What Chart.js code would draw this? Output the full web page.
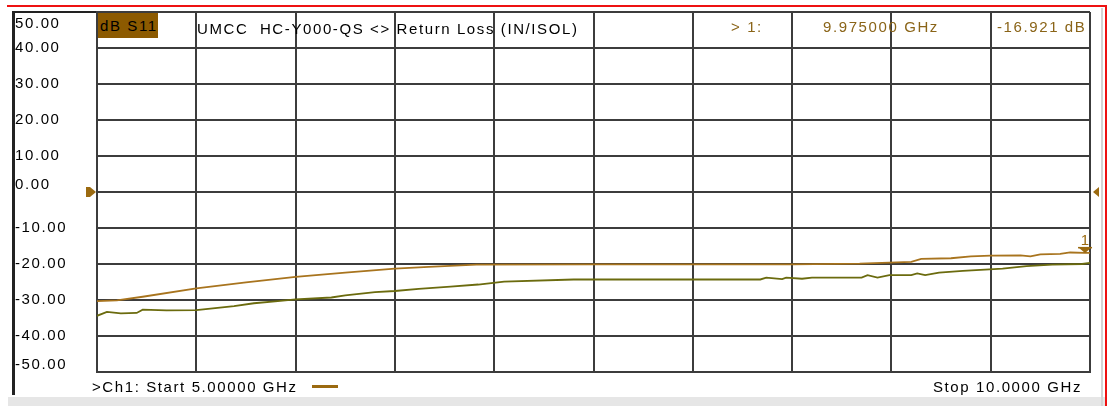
<!DOCTYPE html>
<html lang="en">
<head>
<meta charset="UTF-8">
<title>dB S11 Return Loss</title>
<script src="https://cdn.jsdelivr.net/npm/chart.js"></script>
<style>
  body { margin: 0; background: #fff; }
  #wrap { position: relative; width: 1110px; height: 406px; overflow: hidden; }
  canvas { position: absolute; left: 0; top: 0; }
  .lbl { position: absolute; font-family: "Liberation Sans", Arial, sans-serif; font-size: 15px;
         letter-spacing: 1.6px; line-height: 16px; white-space: pre; color: #000; }
  .mk { color: #8a6418; }
</style>
</head>
<body>
<div id="wrap">
  <canvas id="vna" width="1110" height="406"></canvas>
  <div class="lbl" style="left:98px;top:13px;height:25px;line-height:25px;width:58px;padding-left:2px;background:#8c5a00;">dB S11</div>
  <div class="lbl" style="left:197px;top:21px;">UMCC  HC-Y000-QS &lt;&gt; Return Loss (IN/ISOL)</div>
  <div class="lbl mk" style="left:731px;top:19px;">&gt; 1:</div>
  <div class="lbl mk" style="left:823px;top:19px;">9.975000 GHz</div>
  <div class="lbl mk" style="left:997px;top:19px;">-16.921 dB</div>
  <div class="lbl" style="left:92px;top:379px;">&gt;Ch1: Start 5.00000 GHz</div>
  <div style="position:absolute;left:312px;top:385px;width:26px;height:3px;background:#9b6a10;"></div>
  <div class="lbl" style="left:933px;top:379px;">Stop 10.0000 GHz</div>
</div>

<script>
// trace data (GHz / dB)
const brownFreq = [5.00, 5.10, 5.23, 5.50, 5.75, 6.00, 6.25, 6.50, 6.67, 6.91, 7.50, 8.00, 8.50, 8.84, 9.10,
                   9.15, 9.30, 9.40, 9.50, 9.65, 9.70, 9.75, 9.85, 9.90, 9.975, 10.00];
const brownDb = [-30.3, -30.1, -29.1, -26.8, -25.1, -23.6, -22.4, -21.3, -20.8, -20.2, -20.1, -20.1, -20.1, -19.9, -19.4,
                 -18.6, -18.4, -17.9, -17.7, -17.6, -17.9, -17.3, -17.2, -16.8, -16.9, -16.9];

const oliveFreq = [5.00, 5.05, 5.12, 5.20, 5.23, 5.35, 5.50, 5.69, 5.79, 5.91, 6.00, 6.18, 6.25, 6.40, 6.50,
                   6.62, 6.78, 6.92, 7.05, 7.40, 8.00, 8.34, 8.37, 8.45, 8.47, 8.55, 8.60, 8.85, 8.88, 8.93,
                   8.99, 9.10, 9.13, 9.17, 9.24, 9.36, 9.56, 9.68, 9.81, 9.96, 10.00];
const oliveDb = [-34.4, -33.3, -33.7, -33.6, -32.7, -32.9, -32.8, -31.7, -30.9, -30.3, -29.8, -29.3, -28.7, -27.8, -27.5,
                 -26.9, -26.3, -25.7, -24.9, -24.3, -24.3, -24.3, -23.8, -24.2, -23.8, -24.1, -23.8, -23.8, -23.1, -23.8,
                 -23.1, -23.1, -22.6, -23.1, -22.4, -21.9, -21.3, -20.6, -20.2, -20.0, -19.7];

const markerFreq = 9.975;
const markerDb = -16.921;

const yTicks = [50, 40, 30, 20, 10, 0, -10, -20, -30, -40, -50];

const frame = {
  id: 'frame',
  beforeDraw(chart) {
    const c = chart.ctx, a = chart.chartArea;
    c.save();
    c.fillStyle = '#fff';
    c.fillRect(0, 0, chart.width, chart.height);
    c.fillStyle = '#e6e6e6';
    c.fillRect(8, 397, 1097, 9);
    c.fillStyle = '#d4d4d4';
    c.fillRect(1101, 8, 2, 398);
    c.fillStyle = '#ee1111';
    c.fillRect(7, 5, 1100, 2);
    c.fillRect(1105, 5, 2, 401);
    c.fillStyle = '#222';
    c.fillRect(12, a.top - 1, 3, 396 - a.top);
    c.fillRect(12, a.top - 1, a.right - 12, 2);
    c.restore();
    c.letterSpacing = '1.6px';
  },
  afterDatasetsDraw(chart) {
    const c = chart.ctx, a = chart.chartArea;
    const xs = chart.scales.x, ys = chart.scales.y;
    const y0 = ys.getPixelForValue(0);
    c.save();
    c.fillStyle = '#9b6a10';
    // reference level arrows
    c.fillRect(a.left - 11, y0 - 5, 4, 10);
    c.beginPath();
    c.moveTo(a.left - 7, y0 - 5); c.lineTo(a.left - 1, y0); c.lineTo(a.left - 7, y0 + 5);
    c.fill();
    c.beginPath();
    c.moveTo(a.right + 9, y0 - 5); c.lineTo(a.right + 3, y0); c.lineTo(a.right + 9, y0 + 5);
    c.fill();
    // marker 1
    const mx = xs.getPixelForValue(markerFreq), my = ys.getPixelForValue(markerDb);
    c.beginPath();
    c.moveTo(mx - 6, my - 5); c.lineTo(mx + 6, my - 5); c.lineTo(mx, my);
    c.fill();
    c.fillRect(mx - 7, my - 6, 14, 1.5);
    c.font = '15px "Liberation Sans", Arial, sans-serif';
    c.letterSpacing = '0px';
    c.textAlign = 'center';
    c.textBaseline = 'alphabetic';
    c.fillText('1', mx, my - 8);
    c.restore();
  }
};

const ctx = document.getElementById('vna').getContext('2d');
new Chart(ctx, {
  type: 'line',
  data: {
    datasets: [
      {
        label: 'S11',
        data: brownFreq.map((f, i) => ({ x: f, y: brownDb[i] })),
        borderColor: '#a8741e',
        borderWidth: 1.8,
        pointRadius: 0,
        tension: 0
      },
      {
        label: 'S21',
        data: oliveFreq.map((f, i) => ({ x: f, y: oliveDb[i] })),
        borderColor: '#6b6b0e',
        borderWidth: 1.8,
        pointRadius: 0,
        tension: 0
      }
    ]
  },
  options: {
    responsive: false,
    animation: false,
    layout: { padding: { left: 15, top: 12, right: 20, bottom: 34 } },
    plugins: { legend: { display: false }, tooltip: { enabled: false } },
    scales: {
      x: {
        type: 'linear',
        min: 5,
        max: 10,
        ticks: { display: false, stepSize: 0.5, autoSkip: false },
        grid: { color: '#3c3c3c', lineWidth: 2, drawTicks: false },
        border: { color: '#3c3c3c', width: 2 },
        afterFit: s => { s.height = 0; }
      },
      y: {
        min: -50,
        max: 50,
        afterBuildTicks: s => { s.ticks = yTicks.map(v => ({ value: v })); },
        ticks: {
          autoSkip: false,
          crossAlign: 'far',
          color: '#000',
          font: c => ({
            family: '"Liberation Sans", Arial, sans-serif',
            size: 15,
            lineHeight: c.tick && c.tick.value === 50 ? '24px' : '14px'
          }),
          callback: v => v === 50 ? ['', '50.00'] : (v === 0 || v === -50) ? [v.toFixed(2), ''] : v.toFixed(2)
        },
        grid: { color: '#3c3c3c', lineWidth: 2, drawTicks: false },
        border: { color: '#3c3c3c', width: 2 },
        afterFit: s => { s.width = 82; s.paddingTop = 0; s.paddingBottom = 0; }
      }
    }
  },
  plugins: [frame]
});
</script>
</body>
</html>
